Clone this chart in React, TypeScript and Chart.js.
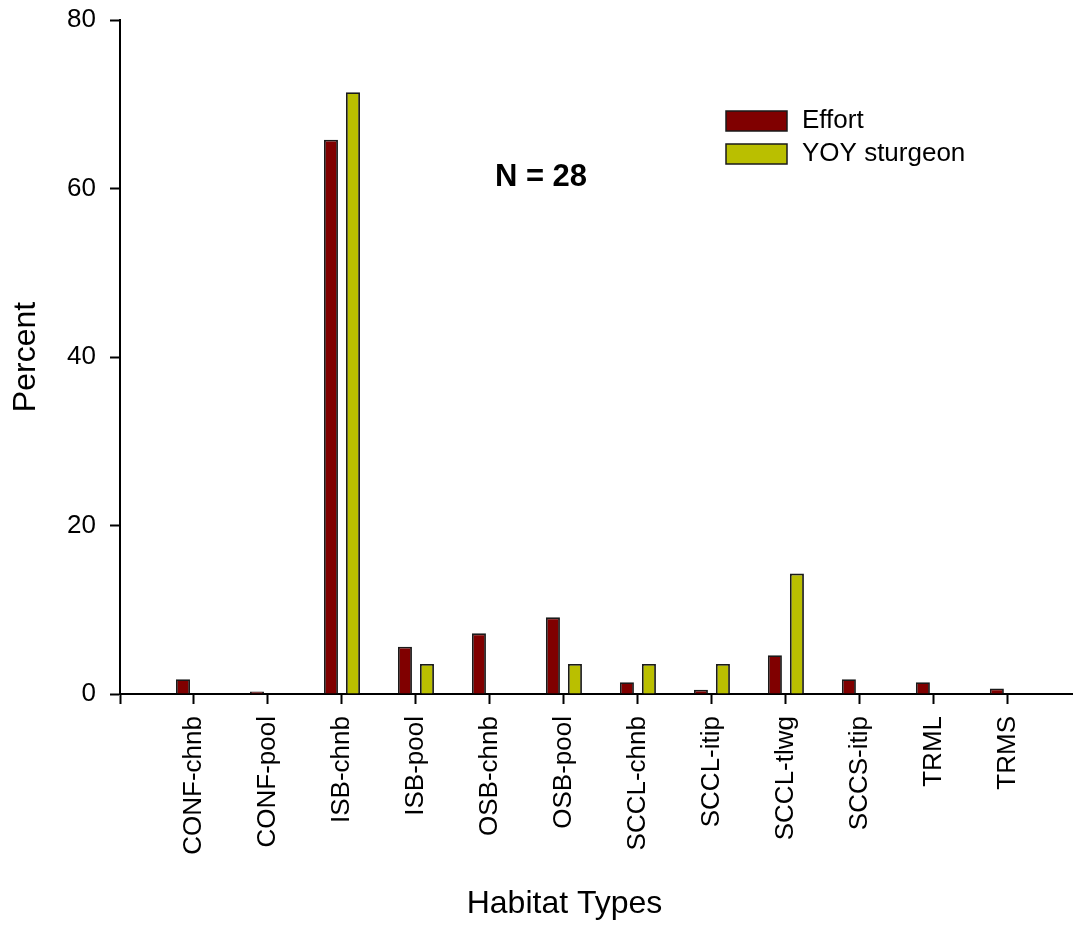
import React, { useEffect, useRef } from 'react';
import { Chart, registerables } from 'chart.js';

Chart.register(...registerables);

const categories = [
  'CONF-chnb', 'CONF-pool', 'ISB-chnb', 'ISB-pool', 'OSB-chnb', 'OSB-pool',
  'SCCL-chnb', 'SCCL-itip', 'SCCL-tlwg', 'SCCS-itip', 'TRML', 'TRMS',
];
const effort = [1.75, 0.3, 65.8, 5.6, 7.2, 9.1, 1.4, 0.5, 4.6, 1.75, 1.4, 0.65];
const yoySturgeon = [0, 0, 71.43, 3.57, 0, 3.57, 3.57, 3.57, 14.29, 0, 0, 0];
const seriesNames = ['Effort', 'YOY sturgeon'];
const yTicks = [0, 20, 40, 60, 80];
const xTitle = 'Habitat Types';
const yTitle = 'Percent';
const annotationText = 'N = 28';

const FONT = '"Liberation Sans", Arial, Helvetica, sans-serif';
const RED = '#800000';
const YELLOW = '#babf00';
const EDGE = '#1a1a1a';

const overlayPlugin = {
  id: 'overlay',
  afterDraw(chart: any) {
    const ctx = chart.ctx;
    const xs = chart.scales.x;
    const ys = chart.scales.y;
    ctx.save();
    // x axis title
    ctx.font = `32px ${FONT}`;
    ctx.fillStyle = '#000';
    ctx.textAlign = 'center';
    ctx.textBaseline = 'middle';
    ctx.fillText(xTitle, 564.5, 904);
    // annotation
    ctx.font = `bold 31px ${FONT}`;
    ctx.fillText(annotationText, xs.getPixelForValue(4.69), ys.getPixelForValue(61.3));
    // legend
    const boxLeft = 726;
    const boxW = 61;
    const boxH = 20;
    const rows = [111, 144];
    ctx.font = `26px ${FONT}`;
    ctx.textAlign = 'left';
    chart.data.datasets.forEach((ds: any, i: number) => {
      const top = rows[i];
      ctx.fillStyle = ds.backgroundColor;
      ctx.fillRect(boxLeft, top, boxW, boxH);
      ctx.lineWidth = 1.5;
      ctx.strokeStyle = EDGE;
      ctx.strokeRect(boxLeft, top, boxW, boxH);
      ctx.fillStyle = '#000';
      ctx.fillText(ds.label, 802, top + boxH / 2);
    });
    ctx.restore();
  },
};

export default function App() {
  const ref = useRef<HTMLCanvasElement | null>(null);

  useEffect(() => {
    document.body.style.margin = '0';
    const canvas = ref.current;
    if (!canvas) return;
    const chart = new Chart(canvas, {
      type: 'bar',
      data: {
        datasets: [
          {
            label: seriesNames[0],
            data: effort.map((v, i) => ({ x: i, y: v })),
            backgroundColor: RED,
            borderColor: EDGE,
            borderWidth: 1.8,
          },
          {
            label: seriesNames[1],
            data: yoySturgeon.map((v, i) => ({ x: i, y: v })),
            backgroundColor: YELLOW,
            borderColor: EDGE,
            borderWidth: 1.8,
          },
        ],
      },
      options: {
        responsive: false,
        animation: false,
        devicePixelRatio: 1,
        categoryPercentage: 0.595,
        barPercentage: 0.636,
        layout: { autoPadding: false, padding: { top: 20, right: 0, left: 0, bottom: 0 } },
        plugins: {
          legend: { display: false },
          tooltip: { enabled: false },
        },
        scales: {
          x: {
            type: 'linear',
            min: -1,
            max: 11.88,
            offset: false,
            afterBuildTicks: (scale: any) => {
              scale.ticks = [-1, ...categories.map((_, i) => i)].map((v) => ({ value: v }));
            },
            afterFit: (scale: any) => {
              scale.height = 236;
              scale.paddingLeft = 0;
              scale.paddingRight = 0;
              scale.paddingTop = 0;
              scale.paddingBottom = 0;
            },
            grid: {
              offset: false,
              drawOnChartArea: false,
              drawTicks: true,
              tickLength: 10,
              tickWidth: 2,
              tickColor: '#000',
            },
            border: { display: true, color: '#000', width: 2 },
            ticks: {
              autoSkip: false,
              minRotation: 90,
              maxRotation: 90,
              padding: 12,
              color: '#000',
              font: { family: FONT, size: 26 },
              callback: (value: any) => categories[value] ?? '',
            },
            title: { display: false, text: xTitle },
          },
          y: {
            type: 'linear',
            min: 0,
            max: 80,
            afterBuildTicks: (scale: any) => {
              scale.ticks = yTicks.map((v) => ({ value: v }));
            },
            afterFit: (scale: any) => {
              scale.width = 120;
              scale.paddingTop = 0;
              scale.paddingBottom = 0;
              scale.paddingLeft = 0;
              scale.paddingRight = 0;
            },
            grid: {
              drawOnChartArea: false,
              drawTicks: true,
              tickLength: 10,
              tickWidth: 2,
              tickColor: '#000',
            },
            border: { display: true, color: '#000', width: 2 },
            ticks: {
              padding: 14,
              color: '#000',
              font: { family: FONT, size: 26 },
            },
            title: {
              display: true,
              text: yTitle,
              color: '#000',
              font: { family: FONT, size: 32 },
              padding: { top: 7, bottom: 0 },
            },
          },
        },
      },
      plugins: [overlayPlugin],
    } as any);
    return () => chart.destroy();
  }, []);

  return (
    <div style={{ position: 'fixed', left: 0, top: 0, width: 1073, height: 930, background: '#fff' }}>
      <canvas ref={ref} width={1073} height={930} style={{ display: 'block' }} />
    </div>
  );
}
